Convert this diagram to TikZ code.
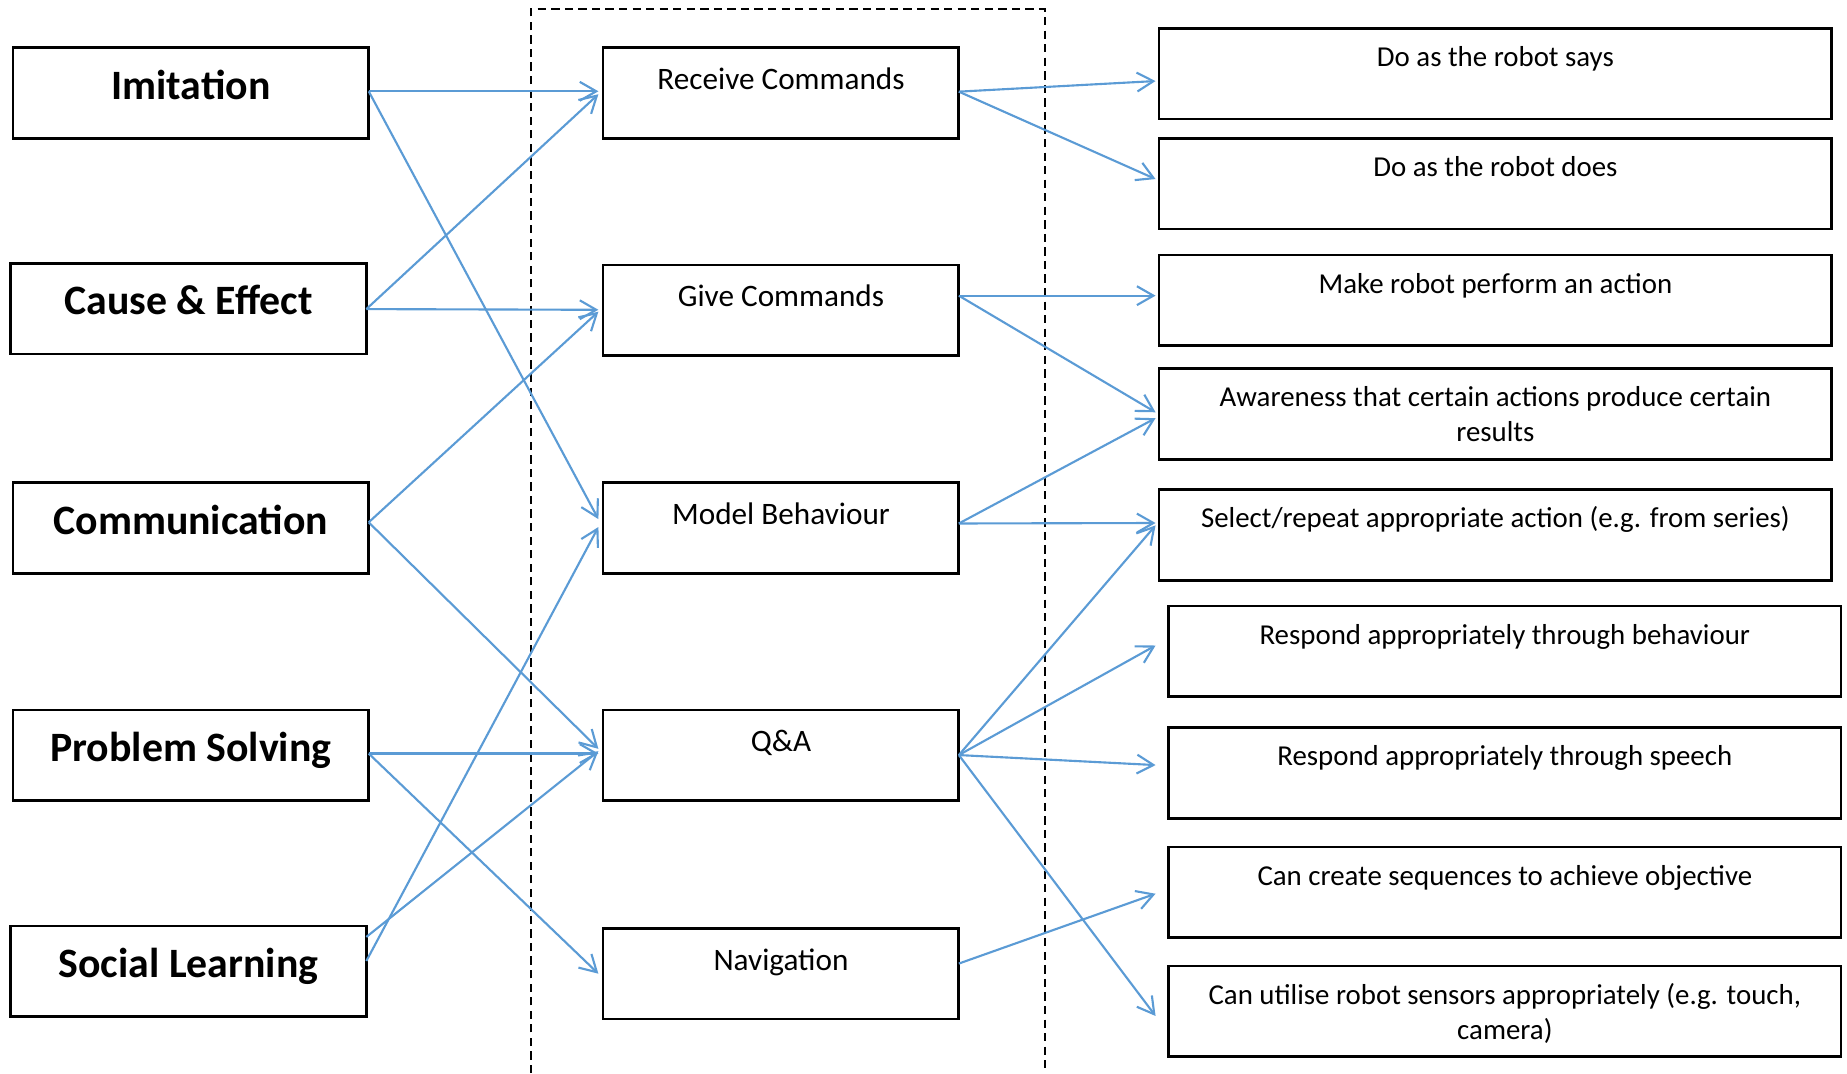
\documentclass[tikz,border=0pt]{standalone}
\usepackage{fontspec}
\setmainfont{Carlito}
\usetikzlibrary{arrows.meta}
\definecolor{arrblue}{HTML}{5B9BD5}
\tikzset{
 box/.style={draw, line width=2.3pt, inner sep=0pt, outer sep=0pt, anchor=north west, align=center},
 lbox/.style={box, minimum width=302pt, text height=44pt, text depth=33pt, font=\fontsize{35.5}{43}\selectfont\bfseries},
 mbox/.style={box, minimum width=302pt, text height=35.5pt, text depth=41.5pt, font=\fontsize{26.5}{32}\selectfont},
 rbox/.style={box, minimum width=571pt, text height=32.5pt, text depth=44.5pt, font=\fontsize{24.5}{29.7}\selectfont},
 rboxtwo/.style={rbox, text height=62.2pt, text depth=14.8pt},
 arr/.style={draw=arrblue, line width=1.8pt, -{Straight Barb[length=14pt,width=16pt]}},
 frame/.style={draw, line width=1.6pt, dash pattern=on 7pt off 4.5pt}
}
\begin{document}
\begin{tikzpicture}[x=1pt,y=-1pt]
\useasboundingbox (0,0) rectangle (1568,911);
% dashed frame
\draw[frame] (451,911) -- (451,8) -- (887,8) -- (887,911);
% left column
\node[lbox] (im) at (11,40.5) {Imitation};
\node[lbox] (ce) at (9,223.4) {Cause \& Effect};
\node[lbox] (cm) at (11,409.7) {Communication};
\node[lbox] (ps) at (11,602.7) {Problem Solving};
\node[lbox] (sl) at (9,786) {Social Learning};
% middle column
\node[mbox] (rc) at (512,40.5) {Receive Commands};
\node[mbox] (gc) at (512,225) {Give Commands};
\node[mbox] (mb) at (512,409.7) {Model Behaviour};
\node[mbox] (qa) at (512,602.7) {Q\&A};
\node[mbox] (nv) at (512,788) {Navigation};
% right column
\node[rbox] (ds) at (984,24) {Do as the robot says};
\node[rbox] (dd) at (984,117.4) {Do as the robot does};
\node[rbox] (mk) at (984,216.5) {Make robot perform an action};
\node[rboxtwo] (aw) at (984,313) {Awareness that certain actions produce certain\\results};
\node[rbox] (sel) at (984,415.7) {Select/repeat appropriate action (e.g. from series)};
\node[rbox] (rb) at (992,514.5) {Respond appropriately through behaviour};
\node[rbox] (rs) at (992,617.7) {Respond appropriately through speech};
\node[rbox] (cc) at (992,719) {Can create sequences to achieve objective};
\node[rboxtwo] (cu) at (992,820) {Can utilise robot sensors appropriately (e.g. touch,\\camera)};
% left -> middle
\draw[arr] ([shift={(0,37)}]im.north east) -- ([shift={(-4,37)}]rc.north west);
\draw[arr] ([shift={(0,37)}]im.north east) -- ([shift={(-4,31)}]mb.north west);
\draw[arr] ([shift={(0,39)}]ce.north east) -- ([shift={(-4,39.5)}]rc.north west);
\draw[arr] ([shift={(0,39)}]ce.north east) -- ([shift={(-4,38)}]gc.north west);
\draw[arr] ([shift={(0,33.7)}]cm.north east) -- ([shift={(-4,39.6)}]gc.north west);
\draw[arr] ([shift={(0,33.7)}]cm.north east) -- ([shift={(-4,33)}]qa.north west);
\draw[arr] ([shift={(0,37)}]ps.north east) -- ([shift={(-4,37)}]qa.north west);
\draw[arr] ([shift={(0,37)}]ps.north east) -- ([shift={(-4,38.6)}]nv.north west);
\draw[arr] ([shift={(0,9.4)}]sl.north east) -- ([shift={(-4,35)}]qa.north west);
\draw[arr] ([shift={(0,29.8)}]sl.north east) -- ([shift={(-4,37.7)}]mb.north west);
% middle -> right
\draw[arr] ([shift={(0,37.3)}]rc.north east) -- ([shift={(-3,44.8)}]ds.north west);
\draw[arr] ([shift={(0,37.3)}]rc.north east) -- ([shift={(-3,34.6)}]dd.north west);
\draw[arr] ([shift={(0,26)}]gc.north east) -- ([shift={(-3,34.5)}]mk.north west);
\draw[arr] ([shift={(0,26)}]gc.north east) -- ([shift={(-3,37)}]aw.north west);
\draw[arr] ([shift={(0,34.7)}]mb.north east) -- ([shift={(-3,42)}]aw.north west);
\draw[arr] ([shift={(0,34.7)}]mb.north east) -- ([shift={(-3,28.3)}]sel.north west);
\draw[arr] ([shift={(0,38.3)}]qa.north east) -- ([shift={(-3,30.3)}]sel.north west);
\draw[arr] ([shift={(0,38.3)}]qa.north east) -- ([shift={(-11,33.5)}]rb.north west);
\draw[arr] ([shift={(0,38.3)}]qa.north east) -- ([shift={(-11,31.8)}]rs.north west);
\draw[arr] ([shift={(0,38.3)}]qa.north east) -- ([shift={(-11,42.5)}]cu.north west);
\draw[arr] ([shift={(0,30)}]nv.north east) -- ([shift={(-11,39.7)}]cc.north west);
\end{tikzpicture}
\end{document}
